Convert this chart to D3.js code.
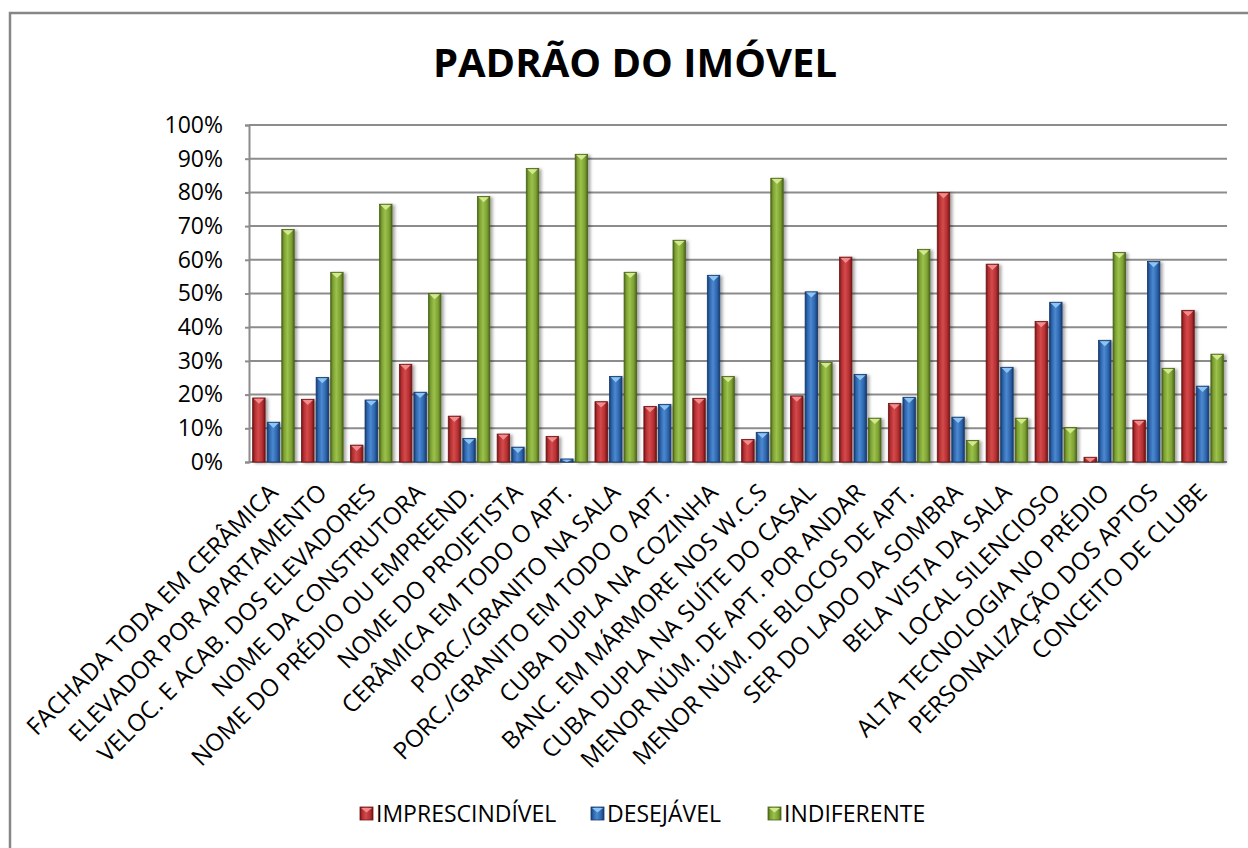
<!DOCTYPE html>
<html>
<head>
<meta charset="utf-8">
<script src="https://cdn.jsdelivr.net/npm/d3@7"></script>
<style>
  body { margin: 0; background: #fff; }
  svg { display: block; font-family: "Open Sans", sans-serif; }
</style>
</head>
<body>
<svg id="chart" width="1248" height="848"></svg>
<script>
// chart data
const categories = [
  'FACHADA TODA EM CERÂMICA', 'ELEVADOR POR APARTAMENTO', 'VELOC. E ACAB. DOS ELEVADORES',
  'NOME DA CONSTRUTORA', 'NOME DO PRÉDIO OU EMPREEND.', 'NOME DO PROJETISTA',
  'CERÂMICA EM TODO O APT.', 'PORC./GRANITO NA SALA', 'PORC./GRANITO EM TODO O APT.',
  'CUBA DUPLA NA COZINHA', 'BANC. EM MÁRMORE NOS W.C.S', 'CUBA DUPLA NA SUÍTE DO CASAL',
  'MENOR NÚM. DE APT. POR ANDAR', 'MENOR NÚM. DE BLOCOS DE APT.', 'SER DO LADO DA SOMBRA',
  'BELA VISTA DA SALA', 'LOCAL SILENCIOSO', 'ALTA TECNOLOGIA NO PRÉDIO',
  'PERSONALIZAÇÃO DOS APTOS', 'CONCEITO DE CLUBE'
];
const seriesNames = ['IMPRESCINDÍVEL', 'DESEJÁVEL', 'INDIFERENTE'];
const imprescindivel = [0.19, 0.186, 0.05, 0.29, 0.136, 0.083, 0.076, 0.179, 0.165, 0.189,
  0.067, 0.196, 0.608, 0.174, 0.80, 0.587, 0.417, 0.014, 0.124, 0.45];
const desejavel = [0.118, 0.251, 0.184, 0.207, 0.07, 0.044, 0.009, 0.254, 0.171, 0.554,
  0.088, 0.505, 0.26, 0.192, 0.133, 0.281, 0.474, 0.361, 0.595, 0.225];
const indiferente = [0.69, 0.563, 0.765, 0.50, 0.788, 0.871, 0.913, 0.563, 0.658, 0.254,
  0.842, 0.296, 0.13, 0.631, 0.064, 0.13, 0.102, 0.622, 0.278, 0.32];
const yTicks = [0, 0.1, 0.2, 0.3, 0.4, 0.5, 0.6, 0.7, 0.8, 0.9, 1.0];

// dark / base / light tones for the bevelled bars
const palette = [
  { dark: '#6e1516', base: '#b52f31', light: '#d44a4c', tip: '#f28b8b' },
  { dark: '#173a6e', base: '#2d65ad', light: '#4c89d0', tip: '#8cc4f2' },
  { dark: '#4a6419', base: '#7da033', light: '#9bc24b', tip: '#d2e98e' }
];

const svg = d3.select('#chart');
const margin = { left: 249, right: 1227, top: 125, bottom: 462 };
const FONT_SIZE = 23;

// outer frame
svg.append('rect')
  .attr('x', 10).attr('y', 13)
  .attr('width', 1270).attr('height', 860)
  .attr('fill', '#fff')
  .attr('stroke', '#868686').attr('stroke-width', 2.5);

const defs = svg.append('defs');
palette.forEach((p, i) => {
  const g = defs.append('linearGradient').attr('id', 'grad' + i)
    .attr('x1', 0).attr('x2', 1).attr('y1', 0).attr('y2', 0);
  g.append('stop').attr('offset', 0).attr('stop-color', p.dark);
  g.append('stop').attr('offset', 0.18).attr('stop-color', p.base);
  g.append('stop').attr('offset', 0.45).attr('stop-color', p.light);
  g.append('stop').attr('offset', 0.78).attr('stop-color', p.base);
  g.append('stop').attr('offset', 1).attr('stop-color', p.dark);
});
const shadow = defs.append('filter').attr('id', 'shadow')
  .attr('x', '-50%').attr('y', '-10%').attr('width', '200%').attr('height', '120%');
shadow.append('feDropShadow')
  .attr('dx', 2.5).attr('dy', 1).attr('stdDeviation', 1.6)
  .attr('flood-color', '#000').attr('flood-opacity', 0.35);

// title
svg.append('text')
  .attr('x', 635).attr('y', 77)
  .attr('text-anchor', 'middle')
  .attr('font-size', 40).attr('font-weight', 'bold')
  .attr('fill', '#000')
  .text('PADRÃO DO IMÓVEL');

/* scales */
const y = d3.scaleLinear().domain([0, 1]).range([margin.bottom, margin.top]);
const x0 = d3.scaleBand().domain(categories)
  .range([margin.left, margin.right])
  .paddingInner(0.15).paddingOuter(0.075);
const x1 = d3.scaleBand().domain(seriesNames)
  .range([0, x0.bandwidth()])
  .paddingInner(0.145);

// gridlines
svg.append('g')
  .selectAll('line')
  .data(yTicks.slice(1))
  .join('line')
    .attr('x1', margin.left).attr('x2', margin.right)
    .attr('y1', d => y(d)).attr('y2', d => y(d))
    .attr('stroke', '#8c8c8c').attr('stroke-width', 2);

// y axis
const yAxis = svg.append('g')
  .attr('transform', `translate(${margin.left},0)`)
  .call(d3.axisLeft(y).tickValues(yTicks).tickFormat(d3.format('.0%')).tickSize(4).tickPadding(22));
yAxis.select('.domain').attr('stroke', '#8c8c8c').attr('stroke-width', 2);
yAxis.selectAll('.tick line').attr('stroke', '#8c8c8c').attr('stroke-width', 2);
yAxis.selectAll('.tick text')
  .attr('font-size', FONT_SIZE).attr('fill', '#000')
  .attr('font-family', '"Open Sans", sans-serif');

// x axis line
svg.append('line')
  .attr('x1', margin.left).attr('x2', margin.right)
  .attr('y1', margin.bottom).attr('y2', margin.bottom)
  .attr('stroke', '#8c8c8c').attr('stroke-width', 2);

/* bars */
const seriesData = [imprescindivel, desejavel, indiferente];
const rows = categories.map((c, i) => ({
  cat: c,
  values: seriesNames.map((s, k) => ({ series: s, k: k, value: seriesData[k][i] }))
}));

const groups = svg.append('g')
  .selectAll('g')
  .data(rows)
  .join('g')
    .attr('transform', d => `translate(${x0(d.cat)},0)`);

const bar = groups.selectAll('g')
  .data(d => d.values)
  .join('g');

bar.append('rect')
  .attr('x', d => x1(d.series))
  .attr('y', d => y(d.value))
  .attr('width', x1.bandwidth())
  .attr('height', d => y(0) - y(d.value))
  .attr('fill', d => `url(#grad${d.k})`)
  .attr('stroke', d => palette[d.k].dark)
  .attr('stroke-width', 0.8)
  .attr('filter', 'url(#shadow)');

// little bevel triangle on top of each bar
bar.append('path')
  .attr('d', d => {
    const xl = x1(d.series) + 1, xr = x1(d.series) + x1.bandwidth() - 1;
    const top = y(d.value) + 0.8;
    const h = Math.min(5, y(0) - y(d.value) - 0.8);
    return `M${xl},${top}L${xr},${top}L${(xl + xr) / 2},${top + h}Z`;
  })
  .attr('fill', d => palette[d.k].tip);

/* category labels */
svg.append('g')
  .selectAll('text')
  .data(categories)
  .join('text')
    .attr('transform', d => `translate(${x0(d) + x0.bandwidth() / 2 + 6},494) rotate(-45)`)
    .attr('text-anchor', 'end')
    .attr('font-size', 24)
    .attr('fill', '#000')
    .text(d => d);

/* legend */
const legendX = [360, 591, 768];
const legend = svg.append('g')
  .selectAll('g')
  .data(seriesNames)
  .join('g')
    .attr('transform', (d, i) => `translate(${legendX[i]},807)`);
legend.append('rect')
  .attr('width', 13).attr('height', 13)
  .attr('fill', (d, i) => `url(#grad${i})`)
  .attr('stroke', (d, i) => palette[i].dark).attr('stroke-width', 0.8);
legend.append('path')
  .attr('d', 'M1,1L12,1L6.5,5.5Z')
  .attr('fill', (d, i) => palette[i].tip);
legend.append('text')
  .attr('x', 16).attr('y', 15)
  .attr('font-size', FONT_SIZE)
  .attr('fill', '#000')
  .text(d => d);
</script>
</body>
</html>
